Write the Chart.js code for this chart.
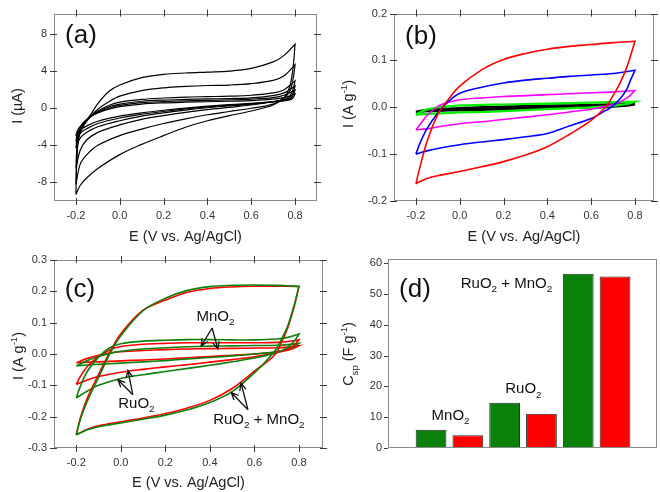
<!DOCTYPE html>
<html><head><meta charset="utf-8">
<script src="https://cdn.jsdelivr.net/npm/chart.js@4.4.1/dist/chart.umd.min.js"></script>
<style>
body{margin:0;background:#fff}
#wrap{position:relative;width:660px;height:492px;background:#fff}
canvas{position:absolute}
</style></head>
<body><div id="wrap">
<canvas id="ca" width="330" height="246" style="left:0;top:0"></canvas>
<canvas id="cb" width="330" height="246" style="left:330px;top:0"></canvas>
<canvas id="cc" width="330" height="246" style="left:0;top:246px"></canvas>
<canvas id="cd" width="330" height="246" style="left:330px;top:246px"></canvas>
</div>
<script>
// ---------------- tick labels ----------------
const eTicks = [-0.2, 0.0, 0.2, 0.4, 0.6, 0.8];
const aITicks = [-8, -4, 0, 4, 8];
const bITicks = [-0.2, -0.1, 0.0, 0.1, 0.2];
const cITicks = [-0.3, -0.2, -0.1, 0.0, 0.1, 0.2, 0.3];
const dCspTicks = [0, 10, 20, 30, 40, 50, 60];

// ---------------- panel (a): CVs, I in µA ----------------
const aUpE = [-0.2,-0.195,-0.185,-0.16,-0.13,-0.1,-0.05,0,0.1,0.2,0.3,0.4,0.5,0.6,0.7,0.75,0.8];
const aDnE = [0.8,0.79,0.775,0.75,0.7,0.6,0.5,0.4,0.3,0.2,0.1,0,-0.1,-0.15,-0.18,-0.2];
const aL1Up = [-9.3,-5.0,-2.8,-1.6,-0.6,0.5,1.8,2.5,3.3,3.65,3.8,3.9,4.0,4.3,5.0,5.7,6.9];
const aL1Dn = [6.9,4.2,2.3,1.15,0.35,-0.3,-0.8,-1.35,-2.05,-2.95,-3.9,-5.0,-6.5,-7.5,-8.3,-9.3];
const aL2Up = [-8.2,-5.0,-3.0,-1.7,-0.8,-0.1,0.7,1.3,1.9,2.2,2.35,2.45,2.5,2.65,3.0,3.5,4.7];
const aL2Dn = [4.7,3.0,1.8,1.1,0.45,0.0,-0.35,-0.7,-1.15,-1.65,-2.25,-2.95,-4.0,-5.0,-6.0,-8.2];
const aL3Up = [-6.5,-4.2,-2.8,-1.6,-0.85,-0.3,0.3,0.65,0.95,1.1,1.2,1.25,1.3,1.4,1.65,2.0,2.95];
const aL3Dn = [2.95,2.0,1.3,0.95,0.7,0.35,0.1,-0.15,-0.45,-0.8,-1.2,-1.8,-2.6,-3.4,-4.5,-6.5];
const aL4Up = [-4.3,-3.3,-2.5,-1.5,-0.85,-0.4,0.15,0.45,0.75,0.88,0.95,1.0,1.05,1.12,1.35,1.65,2.4];
const aL4Dn = [2.4,1.6,1.12,0.9,0.72,0.45,0.25,0.05,-0.2,-0.5,-0.85,-1.35,-2.0,-2.6,-3.2,-4.3];
const aL5Up = [-3.6,-2.9,-2.3,-1.45,-0.85,-0.45,0.0,0.3,0.6,0.72,0.8,0.85,0.9,0.98,1.15,1.4,1.95];
const aL5Dn = [1.95,1.35,1.0,0.85,0.72,0.5,0.33,0.15,-0.08,-0.35,-0.65,-1.05,-1.65,-2.2,-2.7,-3.6];
const aL6Up = [-3.0,-2.5,-2.1,-1.4,-0.85,-0.5,-0.1,0.18,0.45,0.58,0.65,0.7,0.75,0.83,0.98,1.15,1.55];
const aL6Dn = [1.55,1.1,0.9,0.8,0.7,0.52,0.38,0.22,0.02,-0.22,-0.5,-0.85,-1.4,-1.9,-2.35,-3.0];

// ---------------- panel (b): CVs, I in A/g ----------------
const bUpE = [-0.2,-0.18,-0.15,-0.1,-0.05,0,0.1,0.2,0.3,0.4,0.5,0.6,0.7,0.8];
const bDnE = [0.8,0.78,0.76,0.73,0.7,0.665,0.6,0.5,0.4,0.3,0.2,0.1,0,-0.1,-0.15,-0.2];
const bRedUp = [-0.163,-0.125,-0.074,-0.015,0.018,0.045,0.08,0.102,0.115,0.124,0.13,0.134,0.138,0.141];
const bRedDn = [0.141,0.11,0.082,0.05,0.025,0.0,-0.028,-0.058,-0.084,-0.102,-0.116,-0.127,-0.137,-0.146,-0.152,-0.163];
const bBlueUp = [-0.1,-0.075,-0.046,-0.012,0.013,0.03,0.043,0.052,0.058,0.062,0.066,0.069,0.072,0.079];
const bBlueDn = [0.079,0.058,0.036,0.017,0.003,-0.007,-0.024,-0.04,-0.056,-0.063,-0.069,-0.074,-0.08,-0.088,-0.093,-0.1];
const bMagUp = [-0.048,-0.036,-0.018,0.002,0.011,0.016,0.02,0.023,0.025,0.027,0.029,0.031,0.033,0.036];
const bMagDn = [0.036,0.026,0.019,0.011,0.006,0.002,-0.004,-0.01,-0.016,-0.021,-0.026,-0.031,-0.035,-0.042,-0.046,-0.048];
const bGrnUp = [-0.015,-0.01,-0.005,0.0,0.002,0.004,0.005,0.006,0.007,0.008,0.009,0.01,0.011,0.012];
const bGrnDn = [0.012,0.009,0.007,0.005,0.003,0.002,0.0,-0.002,-0.004,-0.006,-0.008,-0.01,-0.011,-0.013,-0.014,-0.016];
const bBlkUp = [-0.01,-0.008,-0.006,-0.004,-0.003,-0.002,0.0,0.001,0.002,0.003,0.004,0.005,0.006,0.007];
const bBlkDn = [0.007,0.005,0.004,0.003,0.002,0.001,0.0,-0.001,-0.002,-0.003,-0.004,-0.005,-0.006,-0.007,-0.008,-0.01];

// ---------------- panel (c): CVs, I in A/g ----------------
const cUpE = [-0.2,-0.18,-0.15,-0.1,-0.05,0,0.1,0.2,0.3,0.4,0.5,0.6,0.7,0.75,0.8];
const cDnE = [0.8,0.78,0.75,0.72,0.69,0.6,0.5,0.4,0.3,0.2,0.1,0,-0.1,-0.15,-0.2];
const cMixGUp = [-0.258,-0.205,-0.15,-0.075,0.0,0.058,0.138,0.178,0.203,0.215,0.219,0.22,0.219,0.218,0.216];
const cMixGDn = [0.216,0.16,0.09,0.045,0.008,-0.06,-0.12,-0.155,-0.178,-0.195,-0.208,-0.22,-0.232,-0.242,-0.258];
const cMixRUp = [-0.258,-0.2,-0.14,-0.065,0.005,0.065,0.14,0.172,0.197,0.209,0.214,0.216,0.216,0.216,0.215];
const cMixRDn = [0.215,0.155,0.085,0.035,-0.004,-0.055,-0.11,-0.148,-0.172,-0.19,-0.204,-0.216,-0.229,-0.24,-0.258];
const cRuGUp = [-0.14,-0.1,-0.055,-0.01,0.02,0.033,0.041,0.044,0.046,0.046,0.045,0.045,0.048,0.053,0.064];
const cRuGDn = [0.064,0.042,0.022,0.01,0.002,-0.013,-0.025,-0.036,-0.046,-0.056,-0.066,-0.078,-0.1,-0.118,-0.14];
const cRuRUp = [-0.097,-0.07,-0.04,-0.008,0.013,0.024,0.031,0.034,0.036,0.036,0.036,0.036,0.037,0.04,0.045];
const cRuRDn = [0.045,0.03,0.016,0.008,0.003,-0.009,-0.018,-0.026,-0.034,-0.041,-0.049,-0.058,-0.072,-0.083,-0.097];
const cMnGUp = [-0.038,-0.031,-0.021,-0.008,0.002,0.009,0.016,0.02,0.023,0.025,0.026,0.027,0.028,0.03,0.034];
const cMnGDn = [0.034,0.025,0.015,0.01,0.006,0.0,-0.006,-0.011,-0.016,-0.021,-0.025,-0.029,-0.033,-0.035,-0.038];
const cMnRUp = [-0.028,-0.022,-0.014,-0.004,0.003,0.007,0.011,0.014,0.016,0.017,0.018,0.019,0.02,0.022,0.026];
const cMnRDn = [0.026,0.019,0.012,0.008,0.005,0.0,-0.004,-0.008,-0.012,-0.016,-0.019,-0.022,-0.025,-0.026,-0.028];

// ---------------- panel (d): specific capacitance ----------------
const dGroups = ['MnO2', 'RuO2', 'RuO2 + MnO2'];
const dCspGreen = [5.9, 14.7, 56.5];
const dCspRed = [4.1, 11.1, 55.6];

// ---------------- helpers ----------------
const FAM = '"Liberation Sans", Arial, sans-serif';
const GREEN_D = '#0b800b', RED = '#ff0000';

function loop(upE, upI, dnE, dnI) {
  return upE.map((x, i) => ({x, y: upI[i]})).concat(dnE.map((x, i) => ({x, y: dnI[i]})));
}
function ds(data, color, width) {
  return {data, showLine: true, borderColor: color, borderWidth: width, pointRadius: 0, tension: 0.35, fill: false};
}
function drawRich(ctx, parts, x, y, size, opt) {
  opt = opt || {};
  const small = size * 0.66;
  let w = 0;
  parts.forEach(([t, m]) => { ctx.font = (m === 'n' ? size : small) + 'px ' + FAM; w += ctx.measureText(t).width; });
  ctx.save();
  ctx.translate(x, y);
  if (opt.rotate) ctx.rotate(opt.rotate);
  let cx = -w / 2;
  ctx.textAlign = 'left'; ctx.textBaseline = 'alphabetic';
  ctx.fillStyle = opt.color || '#1a1a1a';
  const base = size * 0.36;
  parts.forEach(([t, m]) => {
    const s = m === 'n' ? size : small;
    ctx.font = s + 'px ' + FAM;
    const dy = m === 'sub' ? size * 0.3 : (m === 'sup' ? -size * 0.42 : 0);
    ctx.fillText(t, cx, base + dy);
    cx += ctx.measureText(t).width;
  });
  ctx.restore();
}
function arrow(ctx, x0, y0, x1, y1) {
  const a = Math.atan2(y1 - y0, x1 - x0), L = 8, sp = 0.42;
  ctx.beginPath();
  ctx.moveTo(x0, y0); ctx.lineTo(x1, y1);
  ctx.moveTo(x1 - L * Math.cos(a - sp), y1 - L * Math.sin(a - sp));
  ctx.lineTo(x1, y1);
  ctx.lineTo(x1 - L * Math.cos(a + sp), y1 - L * Math.sin(a + sp));
  ctx.stroke();
}
// frame + crossing tick marks on all sides, positioned through the chart scales
function framePlugin(cfg) {
  return {
    id: 'frame',
    afterDraw(chart) {
      const {ctx, chartArea: a, scales} = chart;
      ctx.save();
      ctx.lineWidth = 1;
      ctx.strokeStyle = '#8a8a8a';
      ctx.strokeRect(Math.round(a.left) + 0.5, Math.round(a.top) + 0.5, Math.round(a.right - a.left) - 1, Math.round(a.bottom - a.top) - 1);
      ctx.strokeStyle = '#3a3a3a';
      const seg = (x0, y0, x1, y1) => { ctx.beginPath(); ctx.moveTo(x0, y0); ctx.lineTo(x1, y1); ctx.stroke(); };
      if (cfg.xTicks) scales.x.ticks.forEach(t => {
        const p = Math.round(scales.x.getPixelForValue(t.value)) + 0.5;
        seg(p, a.bottom - cfg.inn, p, a.bottom + cfg.out);
        if (cfg.mirror) seg(p, a.top - cfg.out, p, a.top + cfg.inn);
      });
      scales.y.ticks.forEach(t => {
        const p = Math.round(scales.y.getPixelForValue(t.value)) + 0.5;
        seg(a.left - cfg.out, p, a.left + cfg.inn, p);
        if (cfg.mirror) seg(a.right - cfg.inn, p, a.right + cfg.out, p);
      });
      ctx.restore();
    }
  };
}
// text: panel letter, rotated y title, annotations with sub/superscripts, arrows
function textPlugin(spec) {
  return {
    id: 'texts',
    afterDraw(chart) {
      const {ctx, chartArea: a, scales} = chart;
      const px = (v) => scales.x.getPixelForValue(v), py = (v) => scales.y.getPixelForValue(v);
      drawRich(ctx, [[spec.letter, 'n']], spec.letterPos[0], spec.letterPos[1], 26, {color: '#111'});
      drawRich(ctx, spec.yTitle, spec.yTitleX, spec.yTitleY, 14.5, {rotate: -Math.PI / 2, color: '#222'});
      (spec.notes || []).forEach(n => drawRich(ctx, n.parts, px(n.at[0]), py(n.at[1]), 15, {color: '#111'}));
      ctx.save();
      ctx.strokeStyle = '#111'; ctx.lineWidth = 1.3;
      (spec.arrows || []).forEach(r => arrow(ctx, px(r[0][0]), py(r[0][1]), px(r[1][0]), py(r[1][1])));
      ctx.restore();
    }
  };
}
function cvChart(id, datasets, g) {
  return new Chart(document.getElementById(id), {
    type: 'scatter',
    data: {datasets},
    options: {
      responsive: false, animation: false, events: [],
      layout: {padding: {left: 0, top: g.top, right: g.right, bottom: 0}},
      plugins: {legend: {display: false}, tooltip: {enabled: false}},
      scales: {
        x: {
          type: 'linear', min: -0.3, max: g.xmax,
          afterBuildTicks: s => { s.ticks = eTicks.map(v => ({value: v})); },
          afterFit: s => { s.height = g.xh; },
          grid: {display: false, drawTicks: false}, border: {display: false},
          ticks: {padding: 8, color: '#333', font: {family: FAM, size: 11}, maxRotation: 0, callback: v => v.toFixed(1)},
          title: {display: true, text: 'E (V vs. Ag/AgCl)', color: '#222', padding: {top: 0, bottom: 0}, font: {family: FAM, size: 14.5, lineHeight: 1.2}}
        },
        y: {
          type: 'linear', min: g.ymin, max: g.ymax,
          afterBuildTicks: s => { s.ticks = g.yTicks.map(v => ({value: v})); },
          afterFit: s => { s.width = g.yw; },
          grid: {display: false, drawTicks: false}, border: {display: false},
          ticks: {padding: 7, color: '#333', font: {family: FAM, size: 11}, callback: g.yFmt}
        }
      }
    },
    plugins: [framePlugin({xTicks: true, mirror: true, inn: 3, out: 4}), textPlugin(g.text)]
  });
}

// ---------------- (a) ----------------
cvChart('ca', [
  ds(loop(aUpE, aL1Up, aDnE, aL1Dn), '#000', 1.2),
  ds(loop(aUpE, aL2Up, aDnE, aL2Dn), '#000', 1.2),
  ds(loop(aUpE, aL3Up, aDnE, aL3Dn), '#000', 1.2),
  ds(loop(aUpE, aL4Up, aDnE, aL4Dn), '#000', 1.2),
  ds(loop(aUpE, aL5Up, aDnE, aL5Dn), '#000', 1.2),
  ds(loop(aUpE, aL6Up, aDnE, aL6Dn), '#000', 1.2)
], {top: 6, right: 13, xh: 45, yw: 54, xmax: 0.9, ymin: -10, ymax: 10.2, yTicks: aITicks,
    yFmt: v => String(v),
    text: {letter: '(a)', letterPos: [81, 34], yTitle: [['I (\u00B5A)', 'n']], yTitleX: 17, yTitleY: 106}});

// ---------------- (b) ----------------
cvChart('cb', [
  ds(loop(bUpE, bRedUp, bDnE, bRedDn), '#ff0000', 1.6),
  ds(loop(bUpE, bBlueUp, bDnE, bBlueDn), '#0000ff', 1.6),
  ds(loop(bUpE, bMagUp, bDnE, bMagDn), '#ff00ff', 1.6),
  ds(loop(bUpE, bGrnUp, bDnE, bGrnDn), '#00ee00', 2.2),
  ds(loop(bUpE, bBlkUp, bDnE, bBlkDn), '#000000', 2.6)
], {top: 7, right: 6, xh: 45, yw: 64, xmax: 0.887, ymin: -0.2, ymax: 0.2, yTicks: bITicks,
    yFmt: v => v.toFixed(1),
    text: {letter: '(b)', letterPos: [91, 35], yTitle: [['I (A g', 'n'], ['-1', 'sup'], [')', 'n']], yTitleX: 18, yTitleY: 104}});

// ---------------- (c) ----------------
const sub2 = (name) => name === 'MnO2' ? [['MnO', 'n'], ['2', 'sub']] : [['RuO', 'n'], ['2', 'sub']];
cvChart('cc', [
  ds(loop(cUpE, cMixGUp, cDnE, cMixGDn), GREEN_D, 1.6),
  ds(loop(cUpE, cMixRUp, cDnE, cMixRDn), RED, 1.6),
  ds(loop(cUpE, cRuGUp, cDnE, cRuGDn), GREEN_D, 1.6),
  ds(loop(cUpE, cRuRUp, cDnE, cRuRDn), RED, 1.6),
  ds(loop(cUpE, cMnGUp, cDnE, cMnGDn), GREEN_D, 1.6),
  ds(loop(cUpE, cMnRUp, cDnE, cMnRDn), RED, 1.6)
], {top: 14, right: 7, xh: 44, yw: 54, xmax: 0.908, ymin: -0.3, ymax: 0.3, yTicks: cITicks,
    yFmt: v => v.toFixed(1),
    text: {letter: '(c)', letterPos: [80, 42], yTitle: [['I (A g', 'n'], ['-1', 'sup'], [')', 'n']], yTitleX: 18, yTitleY: 110,
      notes: [
        {parts: sub2('MnO2'), at: [0.425, 0.124]},
        {parts: sub2('RuO2'), at: [0.07, -0.155]},
        {parts: [['RuO', 'n'], ['2', 'sub'], [' + MnO', 'n'], ['2', 'sub']], at: [0.62, -0.205]}
      ],
      arrows: [
        [[0.41, 0.083], [0.361, 0.025]], [[0.41, 0.083], [0.436, 0.016]],
        [[0.054, -0.13], [-0.013, -0.082]], [[0.054, -0.13], [0.032, -0.052]],
        [[0.571, -0.178], [0.496, -0.123]], [[0.571, -0.178], [0.54, -0.093]]
      ]}});

// ---------------- (d) ----------------
const dVals = [], dCols = [];
dGroups.forEach((g, i) => { dVals.push(dCspGreen[i], dCspRed[i]); dCols.push(GREEN_D, RED); });
new Chart(document.getElementById('cd'), {
  type: 'bar',
  data: {datasets: [{
    data: dVals.map((v, i) => ({x: i + 1, y: v})),
    backgroundColor: dCols, borderColor: '#2a2a2a', borderWidth: 1, borderSkipped: false,
    categoryPercentage: 1, barPercentage: 0.836
  }]},
  options: {
    responsive: false, animation: false, events: [],
    layout: {padding: {left: 0, top: 13, right: 3, bottom: 0}},
    plugins: {legend: {display: false}, tooltip: {enabled: false}},
    scales: {
      x: {type: 'linear', min: -0.17, max: 7.14, offset: false,
          afterFit: s => { s.height = 44; },
          grid: {display: false, drawTicks: false}, border: {display: false}, ticks: {display: false}},
      y: {type: 'linear', min: 0, max: 61.3,
          afterBuildTicks: s => { s.ticks = dCspTicks.map(v => ({value: v})); },
          afterFit: s => { s.width = 58; },
          grid: {display: false, drawTicks: false}, border: {display: false},
          ticks: {padding: 6, color: '#333', font: {family: FAM, size: 11}, callback: v => String(v)}}
    }
  },
  plugins: [framePlugin({xTicks: false, mirror: false, inn: 0, out: 4}),
    textPlugin({letter: '(d)', letterPos: [85, 42],
      yTitle: [['C', 'n'], ['sp', 'sub'], [' (F g', 'n'], ['-1', 'sup'], [')', 'n']], yTitleX: 18, yTitleY: 108,
      notes: [
        {parts: [['MnO', 'n'], ['2', 'sub']], at: [1.53, 10.9]},
        {parts: [['RuO', 'n'], ['2', 'sub']], at: [3.51, 19.5]},
        {parts: [['RuO', 'n'], ['2', 'sub'], [' + MnO', 'n'], ['2', 'sub']], at: [3.05, 53.7]}
      ]})]
});
</script>
</body></html>
